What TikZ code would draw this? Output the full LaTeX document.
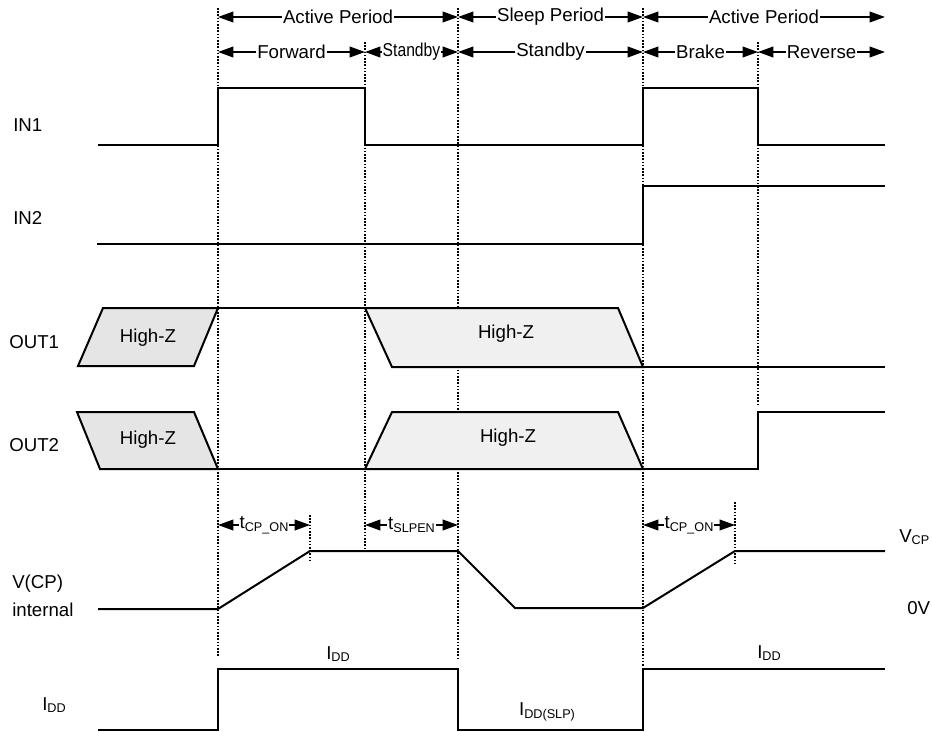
\documentclass[tikz,border=0pt]{standalone}
\usepackage{graphicx}
\usepackage{fontspec}
\setmainfont{Liberation Sans}
\usetikzlibrary{arrows.meta}
% lowered, smaller text for subscripts
\newcommand\lowtext[1]{\raisebox{-1.9pt}{\fontsize{9.5}{11}\selectfont #1}}

\begin{document}
\begin{tikzpicture}[x=0.75pt,y=-0.75pt,
  font=\fontsize{14}{16}\selectfont,
  wave/.style={line width=1.5pt, line join=miter},
  hizdark/.style={wave, fill=black!10},
  hizlight/.style={wave, fill=black!6},
  marker/.style={line width=1.3pt, dash pattern=on 1.2pt off 1.2pt},
  spanarrow/.style={line width=1.2pt, -{Triangle[length=11.5pt,width=8pt]}},
  spanlabel/.style={inner sep=0.5pt},
  siglabel/.style={anchor=west, inner sep=0pt},
]
\useasboundingbox (0,0) rectangle (932,732);

% time markers
\coordinate (m1) at (218,0);
\coordinate (m2) at (365,0);
\coordinate (m3) at (458,0);
\coordinate (m4) at (643,0);
\coordinate (m5) at (758,0);
\coordinate (mend) at (885,0);
\coordinate (cp1) at (310,0);
\coordinate (cp2) at (735,0);

% dotted time markers
\draw[marker] (218,8) -- (218,656);
\draw[marker] (365,42) -- (365,552);
\draw[marker] (458,8) -- (458,660);
\draw[marker] (643,8) -- (643,666);
\draw[marker] (758,42) -- (758,406);
\draw[marker] (310,515) -- (310,562);
\draw[marker] (735,502) -- (735,565);

% period spans (top row)
\node[spanlabel] (actA) at (338,17) {Active Period};
\draw[spanarrow] (actA.west) -- (m1 |- actA.west);
\draw[spanarrow] (actA.east) -- (m3 |- actA.east);
\node[spanlabel] (slp) at (550.5,17) {Sleep Period};
\draw[spanarrow] (slp.west) -- (m3 |- slp.west);
\draw[spanarrow] (slp.east) -- (m4 |- slp.east);
\node[spanlabel] (actB) at (764,17) {Active Period};
\draw[spanarrow] (actB.west) -- (m4 |- actB.west);
\draw[spanarrow] (actB.east) -- (mend |- actB.east);

% mode spans (second row)
\node[spanlabel] (fwd) at (291.5,52) {Forward};
\draw[spanarrow] (fwd.west) -- (m1 |- fwd.west);
\draw[spanarrow] (fwd.east) -- (m2 |- fwd.east);
\node[spanlabel] (stbA) at (411.5,52) {\scalebox{0.84}[1]{Standby}};
\draw[spanarrow] (stbA.west) -- (m2 |- stbA.west);
\draw[spanarrow] (stbA.east) -- (m3 |- stbA.east);
\node[spanlabel] (stbB) at (550.5,52) {Standby};
\draw[spanarrow] (stbB.west) -- (m3 |- stbB.west);
\draw[spanarrow] (stbB.east) -- (m4 |- stbB.east);
\node[spanlabel] (brk) at (700.5,52) {Brake};
\draw[spanarrow] (brk.west) -- (m4 |- brk.west);
\draw[spanarrow] (brk.east) -- (m5 |- brk.east);
\node[spanlabel] (rev) at (821.5,52) {Reverse};
\draw[spanarrow] (rev.west) -- (m5 |- rev.west);
\draw[spanarrow] (rev.east) -- (mend |- rev.east);

% signal names
\node[siglabel] (lin1) at (13,125) {IN1};
\node[siglabel] (lin2) at (13,218) {IN2};
\node[siglabel] (lout1) at (9,342) {OUT1};
\node[siglabel] (lout2) at (9,445) {OUT2};
\node[siglabel] (lvcp) at (12,584) {V(CP)};
\node[siglabel] (lint) at (12,610) {internal};
\node[siglabel] (lidd) at (42,705) {I\lowtext{DD}};

% IN1
\draw[wave] (98,145) -- (218,145) -- (218,88) -- (365,88) -- (365,145)
  -- (643,145) -- (643,88) -- (758,88) -- (758,145) -- (885,145);
% IN2
\draw[wave] (97,244) -- (643,244) -- (643,186) -- (885,186);

% OUT1
\draw[hizdark] (103,308) -- (218,308) -- (194,366) -- (78,366) -- cycle;
\draw[wave] (218,308) -- (365,308);
\draw[hizlight] (365,308) -- (618,308) -- (643,367) -- (392,367) -- cycle;
\draw[wave] (643,367) -- (885,367);
\node (hz1) at (148,338) {High-Z};
\node (hz2) at (506,334) {High-Z};

% OUT2
\draw[hizdark] (77,412) -- (194,412) -- (218,469) -- (100,469) -- cycle;
\draw[wave] (218,469) -- (365,469);
\draw[hizlight] (365,469) -- (392,412) -- (618,412) -- (643,469) -- cycle;
\draw[wave] (643,469) -- (758,469) -- (758,412) -- (885,412);
\node (hz3) at (148,440) {High-Z};
\node (hz4) at (508,438) {High-Z};

% V(CP) internal
\draw[wave] (98,609) -- (218,609) -- (310,551) -- (458,551) -- (515,608)
  -- (643,608) -- (735,551) -- (885,551);
\node[spanlabel] (tcpA) at (264,525) {t\lowtext{CP\_ON}};
\draw[spanarrow] (tcpA.west) -- (m1 |- tcpA.west);
\draw[spanarrow] (tcpA.east) -- (cp1 |- tcpA.east);
\node[spanlabel] (tslp) at (411.5,525) {t\lowtext{SLPEN}};
\draw[spanarrow] (tslp.west) -- (m2 |- tslp.west);
\draw[spanarrow] (tslp.east) -- (m3 |- tslp.east);
\node[spanlabel] (tcpB) at (689,525) {t\lowtext{CP\_ON}};
\draw[spanarrow] (tcpB.west) -- (m4 |- tcpB.west);
\draw[spanarrow] (tcpB.east) -- (cp2 |- tcpB.east);
\node[siglabel] (vcp) at (899,537) {V\lowtext{CP}};
\node[siglabel] (zero) at (907,608) {0V};

% I_DD
\draw[wave] (98,730) -- (218,730) -- (218,669) -- (458,669) -- (458,730)
  -- (643,730) -- (643,669) -- (885,669);
\node (iddA) at (338,654) {I\lowtext{DD}};
\node (iddB) at (769,653) {I\lowtext{DD}};
\node (iddS) at (547,712) {I\lowtext{DD(SLP)}};
\end{tikzpicture}
\end{document}
